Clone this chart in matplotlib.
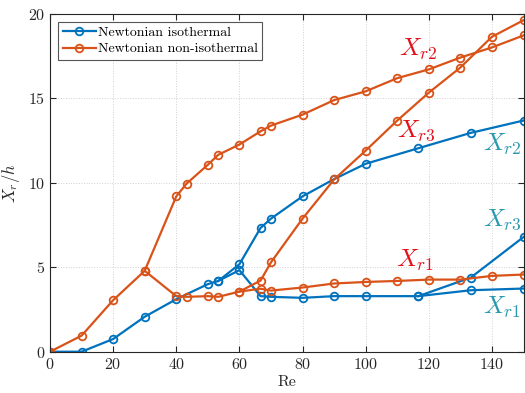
import numpy as np
import matplotlib
matplotlib.use('Agg')
import matplotlib.pyplot as plt

plt.rcParams['font.family'] = 'serif'
plt.rcParams['font.serif'] = ['cmr10']
plt.rcParams['mathtext.fontset'] = 'cm'
plt.rcParams['axes.formatter.use_mathtext'] = True

nan = np.nan

# Donnees
re_iso = [0, 10, 20, 30, 40, 50, 53.3, 60, 66.7, 70, 80, 90, 100, 116.7, 133.3, 150]
iso_xr1 = [0, 0, 0.75, 2.07, 3.11, 4.0, 4.19, 4.83, 3.29, 3.25, 3.19, 3.29, 3.29, 3.29, 3.64, 3.74]
iso_xr2 = [nan, nan, nan, nan, nan, nan, 4.19, 5.18, 7.33, 7.88, 9.2, 10.22, 11.13, 12.05, 12.96, 13.69]
iso_xr3 = [nan]*13 + [3.29, 4.39, 6.79]

re_non = [0, 10, 20, 30, 40, 43.3, 50, 53.3, 60, 66.7, 70, 80, 90, 100, 110, 120, 130, 140, 150]
non_xr1 = [0, 0.95, 3.05, 4.79, 3.29, 3.25, 3.29, 3.25, 3.56, 3.73, 3.62, 3.8, 4.04, 4.13, 4.19, 4.27, 4.27, 4.49, 4.57]
non_xr2 = [nan, nan, nan, 4.79, 9.2, 9.96, 11.07, 11.66, 12.27, 13.05, 13.39, 14.04, 14.9, 15.42, 16.2, 16.72, 17.42, 18.02, 18.73]
non_xr3 = [nan]*8 + [3.56, 4.21, 5.29, 7.88, 10.2, 11.91, 13.69, 15.34, 16.83, 18.65, 19.63]

labels = ['Newtonian isothermal', 'Newtonian non-isothermal']

# etiquettes (texte, x, y, couleur)
annot = [(r'$X_{r2}$', 116.5, 17.9, '#e3101c'),
         (r'$X_{r3}$', 116.0, 13.1, '#e3101c'),
         (r'$X_{r1}$', 115.5, 5.4, '#e3101c'),
         (r'$X_{r2}$', 143.3, 12.25, '#2a98ae'),
         (r'$X_{r3}$', 143.3, 7.8, '#2a98ae'),
         (r'$X_{r1}$', 143.3, 2.65, '#2a98ae')]

blue = '#0072BD'
orange = '#D95319'
axc = '#262626'

fig = plt.figure(figsize=(5.25, 3.93), dpi=100)
ax = fig.add_axes([50/525, 1 - 351.7/393, 473.5/525, (351.7 - 14)/393])

style = dict(lw=1.6, marker='o', ms=5.5, mfc='none', mew=1.3)
h1, = ax.plot(re_iso, iso_xr1, color=blue, **style)
ax.plot(re_iso, iso_xr2, color=blue, **style)
ax.plot(re_iso, iso_xr3, color=blue, **style)
h2, = ax.plot(re_non, non_xr1, color=orange, **style)
ax.plot(re_non, non_xr2, color=orange, **style)
ax.plot(re_non, non_xr3, color=orange, **style)

for txt, x, y, c in annot:
    ax.text(x, y, txt, color=c, fontsize=18, ha='center', va='center')

ax.set_xlim(0, 150)
ax.set_ylim(0, 20)
ax.set_xticks(np.arange(0, 141, 20))
ax.set_yticks(np.arange(0, 21, 5))
ax.grid(True, linestyle=':', color='#d0d0d0', lw=0.7)
ax.tick_params(direction='in', top=True, right=True, labelsize=11.5, colors=axc, length=4)
for s in ax.spines.values():
    s.set_color(axc)
    s.set_linewidth(0.8)

ax.set_xlabel('Re', fontsize=11.5, color=axc, labelpad=3)
ax.set_ylabel(r'$X_r/h$', fontsize=12, color=axc, labelpad=4)

leg = ax.legend([h1, h2], labels, loc='upper left', fontsize=10, fancybox=False,
                framealpha=1, edgecolor='#555555', handlelength=2.4, handletextpad=0.15,
                borderpad=0.3, labelspacing=0.25, borderaxespad=0.6)
leg.get_frame().set_linewidth(0.8)

fig.savefig('out.png', dpi=100)
